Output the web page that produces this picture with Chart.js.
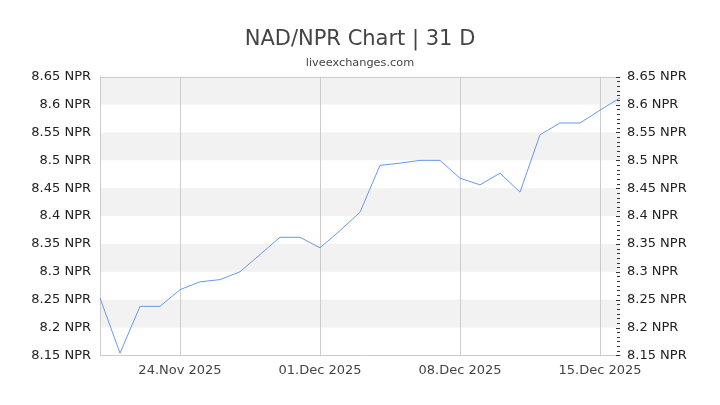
<!DOCTYPE html>
<html>
<head>
<meta charset="utf-8">
<script src="https://cdn.jsdelivr.net/npm/chart.js@4/dist/chart.umd.min.js"></script>
<style>
  html, body { margin: 0; padding: 0; background: #fff; }
  #wrap { width: 720px; height: 405px; }
</style>
</head>
<body>
<div id="wrap"><canvas id="rateChart" width="720" height="405"></canvas></div>
<script>
const days = [
  "20.Nov 2025", "21.Nov 2025", "22.Nov 2025", "23.Nov 2025", "24.Nov 2025",
  "25.Nov 2025", "26.Nov 2025", "27.Nov 2025", "28.Nov 2025", "29.Nov 2025",
  "30.Nov 2025", "01.Dec 2025", "02.Dec 2025", "03.Dec 2025", "04.Dec 2025",
  "05.Dec 2025", "06.Dec 2025", "07.Dec 2025", "08.Dec 2025", "09.Dec 2025",
  "10.Dec 2025", "11.Dec 2025", "12.Dec 2025", "13.Dec 2025", "14.Dec 2025",
  "15.Dec 2025", "16.Dec 2025"
];
const rates = [
  8.253, 8.154, 8.238, 8.238, 8.268,
  8.282, 8.286, 8.300, 8.331, 8.362,
  8.362, 8.343, 8.374, 8.407, 8.491,
  8.495, 8.500, 8.500, 8.468, 8.456,
  8.477, 8.443, 8.546, 8.567, 8.567,
  8.590, 8.612
];
const xTickLabels = ["24.Nov 2025", "01.Dec 2025", "08.Dec 2025", "15.Dec 2025"];
const yMin = 8.15;
const yMax = 8.65;
const yStep = 0.05;

const fmtRate = (v) => parseFloat(Number(v).toFixed(2)) + " NPR";

// grey bands on every other y interval (8.2-8.25, 8.3-8.35, ...), plus top border line
const bandPlugin = {
  id: "bands",
  beforeDraw(chart) {
    const { ctx, chartArea, scales } = chart;
    if (!chartArea) return;
    const y = scales.y;
    const ticks = y.ticks;
    ctx.save();
    ctx.fillStyle = "#f2f2f2";
    for (let i = 2; i < ticks.length; i += 2) {
      const top = y.getPixelForValue(ticks[i].value);
      const bottom = y.getPixelForValue(ticks[i - 1].value);
      ctx.fillRect(chartArea.left, top, chartArea.right - chartArea.left, bottom - top);
    }
    ctx.strokeStyle = "#cccccc";
    ctx.lineWidth = 1;
    ctx.beginPath();
    ctx.moveTo(chartArea.left, Math.round(chartArea.top) + 0.5);
    ctx.lineTo(chartArea.right, Math.round(chartArea.top) + 0.5);
    ctx.stroke();
    ctx.restore();
  }
};

// major + minor ticks on the right axis, drawn just inside the plot
const minorTickPlugin = {
  id: "minorTicks",
  afterDraw(chart) {
    const { ctx, chartArea, scales } = chart;
    const y = scales.y2;
    const ticks = y.ticks;
    const x = chartArea.right;
    ctx.save();
    ctx.strokeStyle = "#333";
    ctx.lineWidth = 1;
    ctx.beginPath();
    for (let i = 0; i < ticks.length; i++) {
      const py = Math.round(y.getPixelForValue(ticks[i].value)) + 0.5;
      ctx.moveTo(x - 4, py);
      ctx.lineTo(x, py);
      if (i + 1 < ticks.length) {
        const a = ticks[i].value, b = ticks[i + 1].value;
        for (let k = 1; k < 6; k++) {
          const my = Math.round(y.getPixelForValue(a + (b - a) * k / 6)) + 0.5;
          ctx.moveTo(x - 3, my);
          ctx.lineTo(x, my);
        }
      }
    }
    ctx.stroke();
    ctx.restore();
  }
};

new Chart(document.getElementById("rateChart"), {
  type: "line",
  data: {
    labels: days,
    datasets: [{
      label: "NAD/NPR",
      data: rates,
      borderColor: "#6a98ea",
      borderWidth: 1,
      pointRadius: 0,
      tension: 0,
      fill: false
    }]
  },
  options: {
    responsive: false,
    animation: false,
    layout: { padding: { left: 0, right: 0, top: 0, bottom: 20 } },
    plugins: {
      legend: { display: false },
      tooltip: { enabled: false },
      title: {
        display: true,
        text: "NAD/NPR Chart | 31 D",
        color: "#444",
        font: { family: "DejaVu Sans", size: 21, weight: "normal" },
        padding: { top: 27, bottom: 0 }
      },
      subtitle: {
        display: true,
        text: "liveexchanges.com",
        color: "#444",
        font: { family: "DejaVu Sans", size: 11.3, weight: "normal" },
        padding: { top: 4, bottom: 7 }
      }
    },
    scales: {
      x: {
        type: "category",
        offset: false,
        border: { display: true, color: "#cccccc" },
        grid: {
          drawTicks: false,
          color: (c) => xTickLabels.includes(days[c.index]) ? "#cccccc" : "rgba(0,0,0,0)"
        },
        ticks: {
          autoSkip: false,
          maxRotation: 0,
          padding: 7,
          color: "#444",
          font: { family: "DejaVu Sans", size: 13 },
          callback: (v, i) => xTickLabels.includes(days[i]) ? days[i] : ""
        }
      },
      y: {
        position: "left",
        min: yMin,
        max: yMax,
        afterFit: (s) => { s.width = 100; },
        border: { display: true, color: "#cccccc" },
        grid: { display: false, drawTicks: false },
        ticks: {
          stepSize: yStep,
          padding: 9,
          color: "#222",
          font: { family: "DejaVu Sans", size: 13 },
          callback: fmtRate
        }
      },
      y2: {
        position: "right",
        min: yMin,
        max: yMax,
        afterFit: (s) => { s.width = 100; },
        border: { display: false },
        grid: { display: false, drawTicks: false },
        ticks: {
          stepSize: yStep,
          padding: 7,
          color: "#222",
          font: { family: "DejaVu Sans", size: 13 },
          callback: fmtRate
        }
      }
    }
  },
  plugins: [bandPlugin, minorTickPlugin]
});
</script>
</body>
</html>
